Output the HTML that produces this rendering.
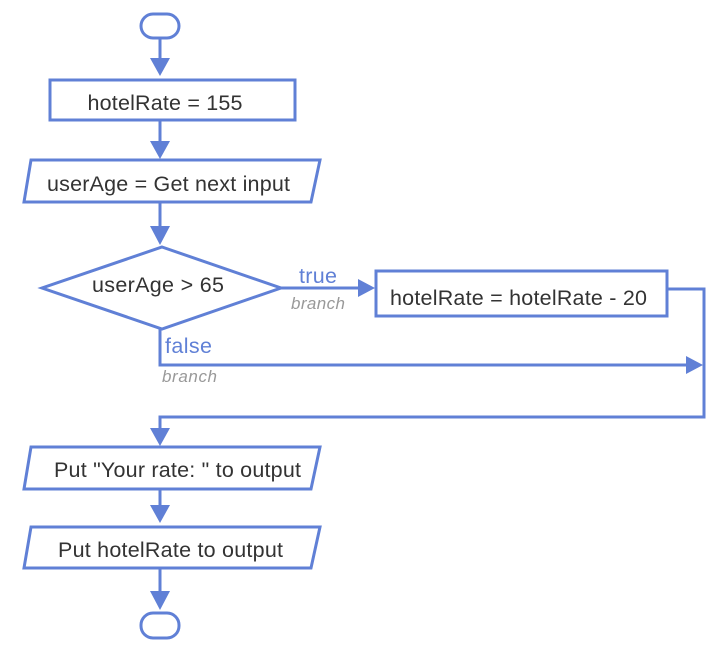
<!DOCTYPE html>
<html><head><meta charset="utf-8"><style>
html,body{margin:0;padding:0;background:#fff;}
svg{display:block;}
text{font-family:"Liberation Sans",sans-serif;}
</style></head><body>
<svg width="728" height="658" viewBox="0 0 728 658" xmlns="http://www.w3.org/2000/svg">
<g fill="none" stroke="#6080d6" stroke-width="3">
<rect x="141" y="14" width="38" height="24" rx="12"/>
<rect x="50" y="80" width="245" height="40"/>
<polygon points="31,160 320,160 311,202 24,202"/>
<polygon points="162,247 281,288 162,329 42,288"/>
<rect x="376" y="271" width="291" height="45"/>
<polygon points="31,447 320,447 311,489 24,489"/>
<polygon points="31,527 320,527 311,568 24,568"/>
<rect x="141" y="613" width="38" height="25" rx="12"/>
<line x1="160" y1="38" x2="160" y2="60"/>
<line x1="160" y1="120" x2="160" y2="143"/>
<line x1="160" y1="202" x2="160" y2="228"/>
<line x1="281" y1="288" x2="360" y2="288"/>
<polyline points="667,289 704,289 704,417 160,417 160,430"/>
<polyline points="160,329 160,365 688,365"/>
<line x1="160" y1="489" x2="160" y2="507"/>
<line x1="160" y1="568" x2="160" y2="593"/>
</g>
<g fill="#6080d6">
<polygon points="150,58 170,58 160,76"/>
<polygon points="150,141 170,141 160,159"/>
<polygon points="150,226 170,226 160,245"/>
<polygon points="358,279 358,297 375,288"/>
<polygon points="686,356 686,374 703,365"/>
<polygon points="150,428 170,428 160,446"/>
<polygon points="150,505 170,505 160,523"/>
<polygon points="150,591 170,591 160,610"/>
</g>
<g fill="#333" font-size="21.5">
<text x="165" y="110" text-anchor="middle" textLength="155">hotelRate = 155</text>
<text x="47" y="191" textLength="243">userAge = Get next input</text>
<text x="158" y="292" text-anchor="middle" textLength="132">userAge &gt; 65</text>
<text x="390" y="305" textLength="257">hotelRate = hotelRate - 20</text>
<text x="54" y="477" textLength="247">Put "Your rate: " to output</text>
<text x="58" y="557" textLength="225">Put hotelRate to output</text>
</g>
<g fill="#6080d6" font-size="21.5">
<text x="299" y="283" textLength="38">true</text>
<text x="165" y="353" textLength="47">false</text>
</g>
<g fill="#999" font-size="17" font-style="italic">
<text x="291" y="309" textLength="54">branch</text>
<text x="162" y="382" textLength="55">branch</text>
</g>
</svg>
</body></html>
